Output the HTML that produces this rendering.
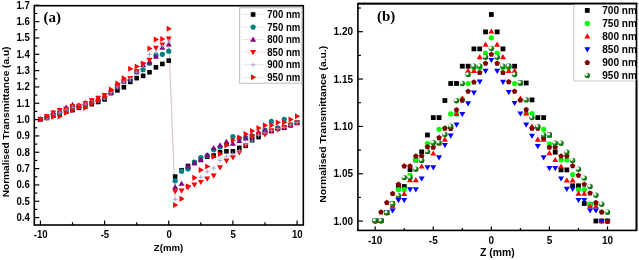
<!DOCTYPE html>
<html><head><meta charset="utf-8"><style>
html,body{margin:0;padding:0;background:#fff;width:639px;height:260px;overflow:hidden}
svg{display:block;filter:blur(0.35px)}
</style></head><body>
<svg width="639" height="260" viewBox="0 0 639 260">
<rect width="639" height="260" fill="#fff"/>
<defs><radialGradient id="sg" cx="0.36" cy="0.36" r="0.68" fx="0.3" fy="0.3"><stop offset="0" stop-color="#ffffff"/><stop offset="0.3" stop-color="#e4ece4"/><stop offset="0.45" stop-color="#4c9c4c"/><stop offset="0.62" stop-color="#128212"/><stop offset="1" stop-color="#006400"/></radialGradient><clipPath id="cb"><rect x="0" y="0" width="636.5" height="260"/></clipPath></defs>
<g>
<polyline points="40.45,119.61 46.86,118.79 53.28,114.71 59.69,112.26 66.11,109.81 72.53,107.36 78.94,106.22 85.36,104.10 91.77,102.46 98.19,100.83 104.60,97.89 111.02,92.67 117.43,86.95 123.84,82.05 130.26,78.78 136.68,72.25 143.09,64.90 149.50,54.45 155.92,52.66 162.34,46.12 168.75,41.23 175.16,199.46 181.58,198.81 188.00,186.56 194.41,177.74 200.82,177.25 207.24,171.70 213.66,168.11 220.07,160.44 226.49,156.52 232.90,153.90 239.31,150.64 245.73,144.11 252.14,140.84 258.56,135.12 264.98,132.67 271.39,130.55 277.81,128.59 284.22,127.45 290.63,124.84 297.05,122.55" fill="none" stroke="#eee6ee" stroke-width="0.7"/>
<path d="M168.75 41.23L175.16 199.46" stroke="#d2bccf" stroke-width="0.9"/>
<rect x="38.15" y="117.31" width="4.60" height="4.60" fill="#000"/>
<rect x="44.56" y="115.68" width="4.60" height="4.60" fill="#000"/>
<rect x="50.98" y="113.23" width="4.60" height="4.60" fill="#000"/>
<rect x="57.39" y="111.59" width="4.60" height="4.60" fill="#000"/>
<rect x="63.81" y="109.47" width="4.60" height="4.60" fill="#000"/>
<rect x="70.23" y="107.84" width="4.60" height="4.60" fill="#000"/>
<rect x="76.64" y="105.55" width="4.60" height="4.60" fill="#000"/>
<rect x="83.06" y="103.92" width="4.60" height="4.60" fill="#000"/>
<rect x="89.47" y="101.80" width="4.60" height="4.60" fill="#000"/>
<rect x="95.89" y="99.67" width="4.60" height="4.60" fill="#000"/>
<rect x="102.30" y="97.06" width="4.60" height="4.60" fill="#000"/>
<rect x="108.72" y="90.69" width="4.60" height="4.60" fill="#000"/>
<rect x="115.13" y="88.08" width="4.60" height="4.60" fill="#000"/>
<rect x="121.55" y="84.98" width="4.60" height="4.60" fill="#000"/>
<rect x="127.96" y="79.59" width="4.60" height="4.60" fill="#000"/>
<rect x="134.38" y="75.83" width="4.60" height="4.60" fill="#000"/>
<rect x="140.79" y="73.55" width="4.60" height="4.60" fill="#000"/>
<rect x="147.20" y="69.95" width="4.60" height="4.60" fill="#000"/>
<rect x="153.62" y="65.05" width="4.60" height="4.60" fill="#000"/>
<rect x="160.03" y="61.62" width="4.60" height="4.60" fill="#000"/>
<rect x="166.45" y="58.36" width="4.60" height="4.60" fill="#000"/>
<rect x="172.86" y="174.30" width="4.60" height="4.60" fill="#000"/>
<rect x="179.28" y="167.93" width="4.60" height="4.60" fill="#000"/>
<rect x="185.69" y="163.69" width="4.60" height="4.60" fill="#000"/>
<rect x="192.11" y="160.58" width="4.60" height="4.60" fill="#000"/>
<rect x="198.52" y="156.50" width="4.60" height="4.60" fill="#000"/>
<rect x="204.94" y="154.38" width="4.60" height="4.60" fill="#000"/>
<rect x="211.35" y="153.24" width="4.60" height="4.60" fill="#000"/>
<rect x="217.77" y="149.97" width="4.60" height="4.60" fill="#000"/>
<rect x="224.19" y="148.99" width="4.60" height="4.60" fill="#000"/>
<rect x="230.60" y="148.99" width="4.60" height="4.60" fill="#000"/>
<rect x="237.01" y="145.56" width="4.60" height="4.60" fill="#000"/>
<rect x="243.43" y="143.44" width="4.60" height="4.60" fill="#000"/>
<rect x="249.84" y="137.89" width="4.60" height="4.60" fill="#000"/>
<rect x="256.26" y="134.78" width="4.60" height="4.60" fill="#000"/>
<rect x="262.68" y="130.37" width="4.60" height="4.60" fill="#000"/>
<rect x="269.09" y="128.74" width="4.60" height="4.60" fill="#000"/>
<rect x="275.50" y="126.29" width="4.60" height="4.60" fill="#000"/>
<rect x="281.92" y="125.48" width="4.60" height="4.60" fill="#000"/>
<rect x="288.33" y="123.03" width="4.60" height="4.60" fill="#000"/>
<rect x="294.75" y="120.58" width="4.60" height="4.60" fill="#000"/>
<circle cx="40.45" cy="119.61" r="2.60" fill="#008080"/>
<circle cx="46.86" cy="117.16" r="2.60" fill="#008080"/>
<circle cx="53.28" cy="114.71" r="2.60" fill="#008080"/>
<circle cx="59.69" cy="113.08" r="2.60" fill="#008080"/>
<circle cx="66.11" cy="110.63" r="2.60" fill="#008080"/>
<circle cx="72.53" cy="108.18" r="2.60" fill="#008080"/>
<circle cx="78.94" cy="106.87" r="2.60" fill="#008080"/>
<circle cx="85.36" cy="105.24" r="2.60" fill="#008080"/>
<circle cx="91.77" cy="102.79" r="2.60" fill="#008080"/>
<circle cx="98.19" cy="100.01" r="2.60" fill="#008080"/>
<circle cx="104.60" cy="97.56" r="2.60" fill="#008080"/>
<circle cx="111.02" cy="92.99" r="2.60" fill="#008080"/>
<circle cx="117.43" cy="86.95" r="2.60" fill="#008080"/>
<circle cx="123.84" cy="81.72" r="2.60" fill="#008080"/>
<circle cx="130.26" cy="79.60" r="2.60" fill="#008080"/>
<circle cx="136.68" cy="72.25" r="2.60" fill="#008080"/>
<circle cx="143.09" cy="69.64" r="2.60" fill="#008080"/>
<circle cx="149.50" cy="63.27" r="2.60" fill="#008080"/>
<circle cx="155.92" cy="55.27" r="2.60" fill="#008080"/>
<circle cx="162.34" cy="54.29" r="2.60" fill="#008080"/>
<circle cx="168.75" cy="51.19" r="2.60" fill="#008080"/>
<circle cx="175.16" cy="180.85" r="2.60" fill="#008080"/>
<circle cx="181.58" cy="171.21" r="2.60" fill="#008080"/>
<circle cx="188.00" cy="168.93" r="2.60" fill="#008080"/>
<circle cx="194.41" cy="162.07" r="2.60" fill="#008080"/>
<circle cx="200.82" cy="157.66" r="2.60" fill="#008080"/>
<circle cx="207.24" cy="155.54" r="2.60" fill="#008080"/>
<circle cx="213.66" cy="149.82" r="2.60" fill="#008080"/>
<circle cx="220.07" cy="147.04" r="2.60" fill="#008080"/>
<circle cx="226.49" cy="144.11" r="2.60" fill="#008080"/>
<circle cx="232.90" cy="136.59" r="2.60" fill="#008080"/>
<circle cx="239.31" cy="138.39" r="2.60" fill="#008080"/>
<circle cx="245.73" cy="137.57" r="2.60" fill="#008080"/>
<circle cx="252.14" cy="135.94" r="2.60" fill="#008080"/>
<circle cx="258.56" cy="133.49" r="2.60" fill="#008080"/>
<circle cx="264.98" cy="130.22" r="2.60" fill="#008080"/>
<circle cx="271.39" cy="121.41" r="2.60" fill="#008080"/>
<circle cx="277.81" cy="127.78" r="2.60" fill="#008080"/>
<circle cx="284.22" cy="119.45" r="2.60" fill="#008080"/>
<circle cx="290.63" cy="124.84" r="2.60" fill="#008080"/>
<circle cx="297.05" cy="122.55" r="2.60" fill="#008080"/>
<path d="M40.45 116.00L43.45 121.20L37.45 121.20Z" fill="#800080"/>
<path d="M46.86 113.55L49.86 118.75L43.86 118.75Z" fill="#800080"/>
<path d="M53.28 109.63L56.28 114.83L50.28 114.83Z" fill="#800080"/>
<path d="M59.69 107.18L62.69 112.38L56.69 112.38Z" fill="#800080"/>
<path d="M66.11 104.57L69.11 109.77L63.11 109.77Z" fill="#800080"/>
<path d="M72.53 101.80L75.53 106.99L69.53 106.99Z" fill="#800080"/>
<path d="M78.94 102.29L81.94 107.48L75.94 107.48Z" fill="#800080"/>
<path d="M85.36 99.84L88.36 105.03L82.36 105.03Z" fill="#800080"/>
<path d="M91.77 97.39L94.77 102.58L88.77 102.58Z" fill="#800080"/>
<path d="M98.19 96.08L101.19 101.28L95.19 101.28Z" fill="#800080"/>
<path d="M104.60 93.63L107.60 98.83L101.60 98.83Z" fill="#800080"/>
<path d="M111.02 89.55L114.02 94.74L108.02 94.74Z" fill="#800080"/>
<path d="M117.43 83.34L120.43 88.54L114.43 88.54Z" fill="#800080"/>
<path d="M123.84 78.12L126.84 83.31L120.84 83.31Z" fill="#800080"/>
<path d="M130.26 75.67L133.26 80.86L127.26 80.86Z" fill="#800080"/>
<path d="M136.68 68.16L139.68 73.35L133.68 73.35Z" fill="#800080"/>
<path d="M143.09 61.79L146.09 66.98L140.09 66.98Z" fill="#800080"/>
<path d="M149.50 59.34L152.50 64.53L146.50 64.53Z" fill="#800080"/>
<path d="M155.92 53.46L158.92 58.65L152.92 58.65Z" fill="#800080"/>
<path d="M162.34 44.64L165.34 49.84L159.34 49.84Z" fill="#800080"/>
<path d="M168.75 41.37L171.75 46.57L165.75 46.57Z" fill="#800080"/>
<path d="M175.16 183.94L178.16 189.13L172.16 189.13Z" fill="#800080"/>
<path d="M181.58 180.67L184.58 185.87L178.58 185.87Z" fill="#800080"/>
<path d="M188.00 163.36L191.00 168.56L185.00 168.56Z" fill="#800080"/>
<path d="M194.41 159.93L197.41 165.13L191.41 165.13Z" fill="#800080"/>
<path d="M200.82 157.15L203.82 162.35L197.82 162.35Z" fill="#800080"/>
<path d="M207.24 152.09L210.24 157.29L204.24 157.29Z" fill="#800080"/>
<path d="M213.66 144.91L216.66 150.10L210.66 150.10Z" fill="#800080"/>
<path d="M220.07 142.13L223.07 147.33L217.07 147.33Z" fill="#800080"/>
<path d="M226.49 138.70L229.49 143.90L223.49 143.90Z" fill="#800080"/>
<path d="M232.90 140.50L235.90 145.69L229.90 145.69Z" fill="#800080"/>
<path d="M239.31 137.88L242.31 143.08L236.31 143.08Z" fill="#800080"/>
<path d="M245.73 135.27L248.73 140.47L242.73 140.47Z" fill="#800080"/>
<path d="M252.14 133.48L255.14 138.67L249.14 138.67Z" fill="#800080"/>
<path d="M258.56 129.23L261.56 134.43L255.56 134.43Z" fill="#800080"/>
<path d="M264.98 127.43L267.98 132.63L261.98 132.63Z" fill="#800080"/>
<path d="M271.39 127.43L274.39 132.63L268.39 132.63Z" fill="#800080"/>
<path d="M277.81 125.15L280.81 130.34L274.81 130.34Z" fill="#800080"/>
<path d="M284.22 124.33L287.22 129.53L281.22 129.53Z" fill="#800080"/>
<path d="M290.63 121.72L293.63 126.91L287.63 126.91Z" fill="#800080"/>
<path d="M297.05 119.43L300.05 124.63L294.05 124.63Z" fill="#800080"/>
<path d="M40.45 122.24L43.45 117.04L37.45 117.04Z" fill="#ff0000"/>
<path d="M46.86 119.46L49.86 114.27L43.86 114.27Z" fill="#ff0000"/>
<path d="M53.28 115.71L56.28 110.51L50.28 110.51Z" fill="#ff0000"/>
<path d="M59.69 113.26L62.69 108.06L56.69 108.06Z" fill="#ff0000"/>
<path d="M66.11 111.95L69.11 106.75L63.11 106.75Z" fill="#ff0000"/>
<path d="M72.53 109.50L75.53 104.30L69.53 104.30Z" fill="#ff0000"/>
<path d="M78.94 108.85L81.94 103.65L75.94 103.65Z" fill="#ff0000"/>
<path d="M85.36 106.40L88.36 101.20L82.36 101.20Z" fill="#ff0000"/>
<path d="M91.77 103.46L94.77 98.26L88.77 98.26Z" fill="#ff0000"/>
<path d="M98.19 100.85L101.19 95.65L95.19 95.65Z" fill="#ff0000"/>
<path d="M104.60 98.23L107.60 93.04L101.60 93.04Z" fill="#ff0000"/>
<path d="M111.02 94.97L114.02 89.77L108.02 89.77Z" fill="#ff0000"/>
<path d="M117.43 89.25L120.43 84.06L114.43 84.06Z" fill="#ff0000"/>
<path d="M123.84 84.35L126.84 79.16L120.84 79.16Z" fill="#ff0000"/>
<path d="M130.26 81.25L133.26 76.05L127.26 76.05Z" fill="#ff0000"/>
<path d="M136.68 74.39L139.68 69.19L133.68 69.19Z" fill="#ff0000"/>
<path d="M143.09 67.53L146.09 62.34L140.09 62.34Z" fill="#ff0000"/>
<path d="M149.50 62.96L152.50 57.76L146.50 57.76Z" fill="#ff0000"/>
<path d="M155.92 51.04L158.92 45.84L152.92 45.84Z" fill="#ff0000"/>
<path d="M162.34 47.61L165.34 42.41L159.34 42.41Z" fill="#ff0000"/>
<path d="M168.75 41.73L171.75 36.53L165.75 36.53Z" fill="#ff0000"/>
<path d="M175.16 194.42L178.16 189.22L172.16 189.22Z" fill="#ff0000"/>
<path d="M181.58 193.76L184.58 188.57L178.58 188.57Z" fill="#ff0000"/>
<path d="M188.00 190.50L191.00 185.30L185.00 185.30Z" fill="#ff0000"/>
<path d="M194.41 187.72L197.41 182.53L191.41 182.53Z" fill="#ff0000"/>
<path d="M200.82 185.11L203.82 179.91L197.82 179.91Z" fill="#ff0000"/>
<path d="M207.24 181.68L210.24 176.48L204.24 176.48Z" fill="#ff0000"/>
<path d="M213.66 178.74L216.66 173.54L210.66 173.54Z" fill="#ff0000"/>
<path d="M220.07 170.41L223.07 165.22L217.07 165.22Z" fill="#ff0000"/>
<path d="M226.49 163.72L229.49 158.52L223.49 158.52Z" fill="#ff0000"/>
<path d="M232.90 160.45L235.90 155.25L229.90 155.25Z" fill="#ff0000"/>
<path d="M239.31 155.39L242.31 150.19L236.31 150.19Z" fill="#ff0000"/>
<path d="M245.73 148.86L248.73 143.66L242.73 143.66Z" fill="#ff0000"/>
<path d="M252.14 139.71L255.14 134.51L249.14 134.51Z" fill="#ff0000"/>
<path d="M258.56 137.10L261.56 131.90L255.56 131.90Z" fill="#ff0000"/>
<path d="M264.98 137.59L267.98 132.39L261.98 132.39Z" fill="#ff0000"/>
<path d="M271.39 133.67L274.39 128.47L268.39 128.47Z" fill="#ff0000"/>
<path d="M277.81 132.85L280.81 127.66L274.81 127.66Z" fill="#ff0000"/>
<path d="M284.22 130.57L287.22 125.37L281.22 125.37Z" fill="#ff0000"/>
<path d="M290.63 127.95L293.63 122.76L287.63 122.76Z" fill="#ff0000"/>
<path d="M297.05 125.67L300.05 120.47L294.05 120.47Z" fill="#ff0000"/>
<path d="M38.15 119.61H42.75M40.45 117.31V121.91" stroke="#9c9cd0" stroke-width="0.8" fill="none"/>
<path d="M44.56 118.79H49.16M46.86 116.49V121.09" stroke="#9c9cd0" stroke-width="0.8" fill="none"/>
<path d="M50.98 114.71H55.58M53.28 112.41V117.01" stroke="#9c9cd0" stroke-width="0.8" fill="none"/>
<path d="M57.39 112.26H61.99M59.69 109.96V114.56" stroke="#9c9cd0" stroke-width="0.8" fill="none"/>
<path d="M63.81 109.81H68.41M66.11 107.51V112.11" stroke="#9c9cd0" stroke-width="0.8" fill="none"/>
<path d="M70.23 107.36H74.83M72.53 105.06V109.66" stroke="#9c9cd0" stroke-width="0.8" fill="none"/>
<path d="M76.64 106.22H81.24M78.94 103.92V108.52" stroke="#9c9cd0" stroke-width="0.8" fill="none"/>
<path d="M83.06 104.10H87.66M85.36 101.80V106.40" stroke="#9c9cd0" stroke-width="0.8" fill="none"/>
<path d="M89.47 102.46H94.07M91.77 100.16V104.76" stroke="#9c9cd0" stroke-width="0.8" fill="none"/>
<path d="M95.89 100.83H100.48M98.19 98.53V103.13" stroke="#9c9cd0" stroke-width="0.8" fill="none"/>
<path d="M102.30 97.89H106.90M104.60 95.59V100.19" stroke="#9c9cd0" stroke-width="0.8" fill="none"/>
<path d="M108.72 92.67H113.31M111.02 90.37V94.97" stroke="#9c9cd0" stroke-width="0.8" fill="none"/>
<path d="M115.13 86.95H119.73M117.43 84.65V89.25" stroke="#9c9cd0" stroke-width="0.8" fill="none"/>
<path d="M121.55 82.05H126.14M123.84 79.75V84.35" stroke="#9c9cd0" stroke-width="0.8" fill="none"/>
<path d="M127.96 78.78H132.56M130.26 76.48V81.08" stroke="#9c9cd0" stroke-width="0.8" fill="none"/>
<path d="M134.38 72.25H138.98M136.68 69.95V74.55" stroke="#9c9cd0" stroke-width="0.8" fill="none"/>
<path d="M140.79 64.90H145.39M143.09 62.60V67.20" stroke="#9c9cd0" stroke-width="0.8" fill="none"/>
<path d="M147.20 54.45H151.81M149.50 52.15V56.75" stroke="#9c9cd0" stroke-width="0.8" fill="none"/>
<path d="M153.62 52.66H158.22M155.92 50.36V54.96" stroke="#9c9cd0" stroke-width="0.8" fill="none"/>
<path d="M160.03 46.12H164.64M162.34 43.83V48.42" stroke="#9c9cd0" stroke-width="0.8" fill="none"/>
<path d="M166.45 41.23H171.05M168.75 38.93V43.53" stroke="#9c9cd0" stroke-width="0.8" fill="none"/>
<path d="M172.86 199.46H177.47M175.16 197.16V201.76" stroke="#9c9cd0" stroke-width="0.8" fill="none"/>
<path d="M179.28 198.81H183.88M181.58 196.51V201.11" stroke="#9c9cd0" stroke-width="0.8" fill="none"/>
<path d="M185.69 186.56H190.30M188.00 184.26V188.86" stroke="#9c9cd0" stroke-width="0.8" fill="none"/>
<path d="M192.11 177.74H196.71M194.41 175.44V180.04" stroke="#9c9cd0" stroke-width="0.8" fill="none"/>
<path d="M198.52 177.25H203.12M200.82 174.95V179.55" stroke="#9c9cd0" stroke-width="0.8" fill="none"/>
<path d="M204.94 171.70H209.54M207.24 169.40V174.00" stroke="#9c9cd0" stroke-width="0.8" fill="none"/>
<path d="M211.35 168.11H215.96M213.66 165.81V170.41" stroke="#9c9cd0" stroke-width="0.8" fill="none"/>
<path d="M217.77 160.44H222.37M220.07 158.13V162.74" stroke="#9c9cd0" stroke-width="0.8" fill="none"/>
<path d="M224.19 156.52H228.79M226.49 154.22V158.82" stroke="#9c9cd0" stroke-width="0.8" fill="none"/>
<path d="M230.60 153.90H235.20M232.90 151.60V156.20" stroke="#9c9cd0" stroke-width="0.8" fill="none"/>
<path d="M237.01 150.64H241.62M239.31 148.34V152.94" stroke="#9c9cd0" stroke-width="0.8" fill="none"/>
<path d="M243.43 144.11H248.03M245.73 141.81V146.41" stroke="#9c9cd0" stroke-width="0.8" fill="none"/>
<path d="M249.84 140.84H254.44M252.14 138.54V143.14" stroke="#9c9cd0" stroke-width="0.8" fill="none"/>
<path d="M256.26 135.12H260.86M258.56 132.82V137.42" stroke="#9c9cd0" stroke-width="0.8" fill="none"/>
<path d="M262.68 132.67H267.28M264.98 130.37V134.97" stroke="#9c9cd0" stroke-width="0.8" fill="none"/>
<path d="M269.09 130.55H273.69M271.39 128.25V132.85" stroke="#9c9cd0" stroke-width="0.8" fill="none"/>
<path d="M275.50 128.59H280.11M277.81 126.29V130.89" stroke="#9c9cd0" stroke-width="0.8" fill="none"/>
<path d="M281.92 127.45H286.52M284.22 125.15V129.75" stroke="#9c9cd0" stroke-width="0.8" fill="none"/>
<path d="M288.33 124.84H292.94M290.63 122.54V127.14" stroke="#9c9cd0" stroke-width="0.8" fill="none"/>
<path d="M294.75 122.55H299.35M297.05 120.25V124.85" stroke="#9c9cd0" stroke-width="0.8" fill="none"/>
<path d="M43.57 119.45L38.37 116.45L38.37 122.45Z" fill="#ff0000"/>
<path d="M49.98 116.51L44.79 113.51L44.79 119.51Z" fill="#ff0000"/>
<path d="M56.40 116.83L51.20 113.83L51.20 119.83Z" fill="#ff0000"/>
<path d="M62.81 116.51L57.62 113.51L57.62 119.51Z" fill="#ff0000"/>
<path d="M69.23 112.75L64.03 109.75L64.03 115.75Z" fill="#ff0000"/>
<path d="M75.64 110.30L70.45 107.30L70.45 113.30Z" fill="#ff0000"/>
<path d="M82.06 107.36L76.86 104.36L76.86 110.36Z" fill="#ff0000"/>
<path d="M88.47 107.85L83.28 104.85L83.28 110.85Z" fill="#ff0000"/>
<path d="M94.89 103.77L89.69 100.77L89.69 106.77Z" fill="#ff0000"/>
<path d="M101.30 100.34L96.11 97.34L96.11 103.34Z" fill="#ff0000"/>
<path d="M107.72 96.75L102.52 93.75L102.52 99.75Z" fill="#ff0000"/>
<path d="M114.13 89.56L108.94 86.56L108.94 92.56Z" fill="#ff0000"/>
<path d="M120.55 83.52L115.35 80.52L115.35 86.52Z" fill="#ff0000"/>
<path d="M126.96 78.13L121.77 75.13L121.77 81.13Z" fill="#ff0000"/>
<path d="M133.38 68.82L128.18 65.82L128.18 71.82Z" fill="#ff0000"/>
<path d="M139.79 66.54L134.60 63.54L134.60 69.54Z" fill="#ff0000"/>
<path d="M146.21 63.43L141.01 60.43L141.01 66.43Z" fill="#ff0000"/>
<path d="M152.62 48.57L147.43 45.57L147.43 51.57Z" fill="#ff0000"/>
<path d="M159.04 39.59L153.84 36.59L153.84 42.59Z" fill="#ff0000"/>
<path d="M165.45 39.10L160.26 36.10L160.26 42.10Z" fill="#ff0000"/>
<path d="M171.87 28.82L166.67 25.82L166.67 31.82Z" fill="#ff0000"/>
<path d="M178.28 205.02L173.09 202.02L173.09 208.02Z" fill="#ff0000"/>
<path d="M184.70 198.81L179.50 195.81L179.50 201.81Z" fill="#ff0000"/>
<path d="M191.11 186.24L185.92 183.24L185.92 189.24Z" fill="#ff0000"/>
<path d="M197.53 177.74L192.33 174.74L192.33 180.74Z" fill="#ff0000"/>
<path d="M203.94 169.91L198.75 166.91L198.75 172.91Z" fill="#ff0000"/>
<path d="M210.36 166.48L205.16 163.48L205.16 169.48Z" fill="#ff0000"/>
<path d="M216.77 156.84L211.58 153.84L211.58 159.84Z" fill="#ff0000"/>
<path d="M223.19 153.90L217.99 150.90L217.99 156.90Z" fill="#ff0000"/>
<path d="M229.60 145.25L224.41 142.25L224.41 148.25Z" fill="#ff0000"/>
<path d="M236.02 140.19L230.82 137.19L230.82 143.19Z" fill="#ff0000"/>
<path d="M242.43 137.41L237.24 134.41L237.24 140.41Z" fill="#ff0000"/>
<path d="M248.85 133.98L243.65 130.98L243.65 136.98Z" fill="#ff0000"/>
<path d="M255.26 130.88L250.07 127.88L250.07 133.88Z" fill="#ff0000"/>
<path d="M261.68 127.94L256.48 124.94L256.48 130.94Z" fill="#ff0000"/>
<path d="M268.09 125.16L262.90 122.16L262.90 128.16Z" fill="#ff0000"/>
<path d="M274.51 125.16L269.31 122.16L269.31 128.16Z" fill="#ff0000"/>
<path d="M280.92 122.55L275.73 119.55L275.73 125.55Z" fill="#ff0000"/>
<path d="M287.34 122.55L282.14 119.55L282.14 125.55Z" fill="#ff0000"/>
<path d="M293.75 119.45L288.56 116.45L288.56 122.45Z" fill="#ff0000"/>
<path d="M300.17 116.34L294.97 113.34L294.97 119.34Z" fill="#ff0000"/>
</g>
<rect x="34.3" y="5.7" width="269.0" height="219.3" fill="none" stroke="#000" stroke-width="1.6"/>
<path d="M34.3 217.59H39.3" stroke="#000" stroke-width="1.2"/>
<text transform="translate(29.80 220.99) scale(1 1.11)" font-family='"Liberation Sans", sans-serif' font-size="9.6" font-weight="bold" text-anchor="end" >0.4</text>
<path d="M34.3 209.43H37.3" stroke="#000" stroke-width="1.2"/>
<path d="M34.3 201.26H39.3" stroke="#000" stroke-width="1.2"/>
<text transform="translate(29.80 204.66) scale(1 1.11)" font-family='"Liberation Sans", sans-serif' font-size="9.6" font-weight="bold" text-anchor="end" >0.5</text>
<path d="M34.3 193.09H37.3" stroke="#000" stroke-width="1.2"/>
<path d="M34.3 184.93H39.3" stroke="#000" stroke-width="1.2"/>
<text transform="translate(29.80 188.33) scale(1 1.11)" font-family='"Liberation Sans", sans-serif' font-size="9.6" font-weight="bold" text-anchor="end" >0.6</text>
<path d="M34.3 176.76H37.3" stroke="#000" stroke-width="1.2"/>
<path d="M34.3 168.60H39.3" stroke="#000" stroke-width="1.2"/>
<text transform="translate(29.80 172.00) scale(1 1.11)" font-family='"Liberation Sans", sans-serif' font-size="9.6" font-weight="bold" text-anchor="end" >0.7</text>
<path d="M34.3 160.44H37.3" stroke="#000" stroke-width="1.2"/>
<path d="M34.3 152.27H39.3" stroke="#000" stroke-width="1.2"/>
<text transform="translate(29.80 155.67) scale(1 1.11)" font-family='"Liberation Sans", sans-serif' font-size="9.6" font-weight="bold" text-anchor="end" >0.8</text>
<path d="M34.3 144.10H37.3" stroke="#000" stroke-width="1.2"/>
<path d="M34.3 135.94H39.3" stroke="#000" stroke-width="1.2"/>
<text transform="translate(29.80 139.34) scale(1 1.11)" font-family='"Liberation Sans", sans-serif' font-size="9.6" font-weight="bold" text-anchor="end" >0.9</text>
<path d="M34.3 127.77H37.3" stroke="#000" stroke-width="1.2"/>
<path d="M34.3 119.61H39.3" stroke="#000" stroke-width="1.2"/>
<text transform="translate(29.80 123.01) scale(1 1.11)" font-family='"Liberation Sans", sans-serif' font-size="9.6" font-weight="bold" text-anchor="end" >1.0</text>
<path d="M34.3 111.44H37.3" stroke="#000" stroke-width="1.2"/>
<path d="M34.3 103.28H39.3" stroke="#000" stroke-width="1.2"/>
<text transform="translate(29.80 106.68) scale(1 1.11)" font-family='"Liberation Sans", sans-serif' font-size="9.6" font-weight="bold" text-anchor="end" >1.1</text>
<path d="M34.3 95.11H37.3" stroke="#000" stroke-width="1.2"/>
<path d="M34.3 86.95H39.3" stroke="#000" stroke-width="1.2"/>
<text transform="translate(29.80 90.35) scale(1 1.11)" font-family='"Liberation Sans", sans-serif' font-size="9.6" font-weight="bold" text-anchor="end" >1.2</text>
<path d="M34.3 78.78H37.3" stroke="#000" stroke-width="1.2"/>
<path d="M34.3 70.62H39.3" stroke="#000" stroke-width="1.2"/>
<text transform="translate(29.80 74.02) scale(1 1.11)" font-family='"Liberation Sans", sans-serif' font-size="9.6" font-weight="bold" text-anchor="end" >1.3</text>
<path d="M34.3 62.45H37.3" stroke="#000" stroke-width="1.2"/>
<path d="M34.3 54.29H39.3" stroke="#000" stroke-width="1.2"/>
<text transform="translate(29.80 57.69) scale(1 1.11)" font-family='"Liberation Sans", sans-serif' font-size="9.6" font-weight="bold" text-anchor="end" >1.4</text>
<path d="M34.3 46.12H37.3" stroke="#000" stroke-width="1.2"/>
<path d="M34.3 37.96H39.3" stroke="#000" stroke-width="1.2"/>
<text transform="translate(29.80 41.36) scale(1 1.11)" font-family='"Liberation Sans", sans-serif' font-size="9.6" font-weight="bold" text-anchor="end" >1.5</text>
<path d="M34.3 29.79H37.3" stroke="#000" stroke-width="1.2"/>
<path d="M34.3 21.63H39.3" stroke="#000" stroke-width="1.2"/>
<text transform="translate(29.80 25.03) scale(1 1.11)" font-family='"Liberation Sans", sans-serif' font-size="9.6" font-weight="bold" text-anchor="end" >1.6</text>
<path d="M34.3 13.46H37.3" stroke="#000" stroke-width="1.2"/>
<path d="M34.3 5.30H39.3" stroke="#000" stroke-width="1.2"/>
<text transform="translate(29.80 8.70) scale(1 1.11)" font-family='"Liberation Sans", sans-serif' font-size="9.6" font-weight="bold" text-anchor="end" >1.7</text>
<path d="M40.45 225.0V220.5" stroke="#000" stroke-width="1.2"/>
<text transform="translate(40.75 237.90) scale(1 1.07)" font-family='"Liberation Sans", sans-serif' font-size="9.6" font-weight="bold" text-anchor="middle" >-10</text>
<path d="M104.60 225.0V220.5" stroke="#000" stroke-width="1.2"/>
<text transform="translate(104.90 237.90) scale(1 1.07)" font-family='"Liberation Sans", sans-serif' font-size="9.6" font-weight="bold" text-anchor="middle" >-5</text>
<path d="M168.75 225.0V220.5" stroke="#000" stroke-width="1.2"/>
<text transform="translate(169.05 237.90) scale(1 1.07)" font-family='"Liberation Sans", sans-serif' font-size="9.6" font-weight="bold" text-anchor="middle" >0</text>
<path d="M232.90 225.0V220.5" stroke="#000" stroke-width="1.2"/>
<text transform="translate(233.20 237.90) scale(1 1.07)" font-family='"Liberation Sans", sans-serif' font-size="9.6" font-weight="bold" text-anchor="middle" >5</text>
<path d="M297.05 225.0V220.5" stroke="#000" stroke-width="1.2"/>
<text transform="translate(297.35 237.90) scale(1 1.07)" font-family='"Liberation Sans", sans-serif' font-size="9.6" font-weight="bold" text-anchor="middle" >10</text>
<path d="M72.53 225.0V222.2" stroke="#000" stroke-width="1.2"/>
<path d="M136.68 225.0V222.2" stroke="#000" stroke-width="1.2"/>
<path d="M200.82 225.0V222.2" stroke="#000" stroke-width="1.2"/>
<path d="M264.98 225.0V222.2" stroke="#000" stroke-width="1.2"/>
<text transform="translate(168.50 250.50) scale(1 1.0)" font-family='"Liberation Sans", sans-serif' font-size="9.6" font-weight="bold" text-anchor="middle" >Z(mm)</text>
<text transform="translate(8.80 121.95) scale(1 1.11) rotate(-90)" font-family='"Liberation Sans", sans-serif' font-size="9.2" font-weight="bold" text-anchor="middle" textLength="135.86" lengthAdjust="spacingAndGlyphs">Normalised Transmittance (a.u)</text>
<text transform="translate(43.60 21.60) scale(1 1.03)" font-family='"Liberation Serif", serif' font-size="15" font-weight="bold" text-anchor="start" >(a)</text>
<rect x="239.7" y="7.8" width="62.2" height="75.4" fill="#fff" stroke="#b4b4b4" stroke-width="0.9"/>
<path d="M242.2 14.50H264.2" stroke="#e2e2e2" stroke-width="0.9"/>
<rect x="250.80" y="12.20" width="4.60" height="4.60" fill="#000"/>
<text transform="translate(267.30 18.00) scale(1 1.11)" font-family='"Liberation Sans", sans-serif' font-size="9.6" font-weight="bold" text-anchor="start" textLength="33" lengthAdjust="spacingAndGlyphs">700 nm</text>
<path d="M242.2 27.06H264.2" stroke="#d6eaea" stroke-width="0.9"/>
<circle cx="253.10" cy="27.06" r="2.60" fill="#008080"/>
<text transform="translate(267.30 30.56) scale(1 1.11)" font-family='"Liberation Sans", sans-serif' font-size="9.6" font-weight="bold" text-anchor="start" textLength="33" lengthAdjust="spacingAndGlyphs">750 nm</text>
<path d="M242.2 39.62H264.2" stroke="#ead6ea" stroke-width="0.9"/>
<path d="M253.10 36.50L256.10 41.70L250.10 41.70Z" fill="#800080"/>
<text transform="translate(267.30 43.12) scale(1 1.11)" font-family='"Liberation Sans", sans-serif' font-size="9.6" font-weight="bold" text-anchor="start" textLength="33" lengthAdjust="spacingAndGlyphs">800 nm</text>
<path d="M242.2 52.18H264.2" stroke="#fbdde4" stroke-width="0.9"/>
<path d="M253.10 55.30L256.10 50.10L250.10 50.10Z" fill="#ff0000"/>
<text transform="translate(267.30 55.68) scale(1 1.11)" font-family='"Liberation Sans", sans-serif' font-size="9.6" font-weight="bold" text-anchor="start" textLength="33" lengthAdjust="spacingAndGlyphs">850 nm</text>
<path d="M242.2 64.74H264.2" stroke="#e2e2ee" stroke-width="0.9"/>
<path d="M250.80 64.74H255.40M253.10 62.44V67.04" stroke="#9c9cd0" stroke-width="0.8" fill="none"/>
<text transform="translate(267.30 68.24) scale(1 1.11)" font-family='"Liberation Sans", sans-serif' font-size="9.6" font-weight="bold" text-anchor="start" textLength="33" lengthAdjust="spacingAndGlyphs">900 nm</text>
<path d="M242.2 77.30H264.2" stroke="#fbdde4" stroke-width="0.9"/>
<path d="M256.22 77.30L251.02 74.30L251.02 80.30Z" fill="#ff0000"/>
<text transform="translate(267.30 80.80) scale(1 1.11)" font-family='"Liberation Sans", sans-serif' font-size="9.6" font-weight="bold" text-anchor="start" textLength="33" lengthAdjust="spacingAndGlyphs">950 nm</text>
<g>
<rect x="372.80" y="218.30" width="4.80" height="4.80" fill="#000"/>
<rect x="378.61" y="218.30" width="4.80" height="4.80" fill="#000"/>
<rect x="384.42" y="210.30" width="4.80" height="4.80" fill="#000"/>
<rect x="390.22" y="201.50" width="4.80" height="4.80" fill="#000"/>
<rect x="396.03" y="184.10" width="4.80" height="4.80" fill="#000"/>
<rect x="401.84" y="184.10" width="4.80" height="4.80" fill="#000"/>
<rect x="407.65" y="167.20" width="4.80" height="4.80" fill="#000"/>
<rect x="413.45" y="157.60" width="4.80" height="4.80" fill="#000"/>
<rect x="419.26" y="149.50" width="4.80" height="4.80" fill="#000"/>
<rect x="425.07" y="132.60" width="4.80" height="4.80" fill="#000"/>
<rect x="430.88" y="115.20" width="4.80" height="4.80" fill="#000"/>
<rect x="436.68" y="115.20" width="4.80" height="4.80" fill="#000"/>
<rect x="442.49" y="98.10" width="4.80" height="4.80" fill="#000"/>
<rect x="448.30" y="81.10" width="4.80" height="4.80" fill="#000"/>
<rect x="454.11" y="81.10" width="4.80" height="4.80" fill="#000"/>
<rect x="459.91" y="63.80" width="4.80" height="4.80" fill="#000"/>
<rect x="465.72" y="63.80" width="4.80" height="4.80" fill="#000"/>
<rect x="471.53" y="46.50" width="4.80" height="4.80" fill="#000"/>
<rect x="477.34" y="46.50" width="4.80" height="4.80" fill="#000"/>
<rect x="483.14" y="29.50" width="4.80" height="4.80" fill="#000"/>
<rect x="488.95" y="12.10" width="4.80" height="4.80" fill="#000"/>
<rect x="494.76" y="29.50" width="4.80" height="4.80" fill="#000"/>
<rect x="500.57" y="46.50" width="4.80" height="4.80" fill="#000"/>
<rect x="506.37" y="63.80" width="4.80" height="4.80" fill="#000"/>
<rect x="512.18" y="63.80" width="4.80" height="4.80" fill="#000"/>
<rect x="517.99" y="80.60" width="4.80" height="4.80" fill="#000"/>
<rect x="523.80" y="80.60" width="4.80" height="4.80" fill="#000"/>
<rect x="529.60" y="97.50" width="4.80" height="4.80" fill="#000"/>
<rect x="535.41" y="115.20" width="4.80" height="4.80" fill="#000"/>
<rect x="541.22" y="115.20" width="4.80" height="4.80" fill="#000"/>
<rect x="547.03" y="132.60" width="4.80" height="4.80" fill="#000"/>
<rect x="552.83" y="149.80" width="4.80" height="4.80" fill="#000"/>
<rect x="558.64" y="167.50" width="4.80" height="4.80" fill="#000"/>
<rect x="564.45" y="167.50" width="4.80" height="4.80" fill="#000"/>
<rect x="570.25" y="183.40" width="4.80" height="4.80" fill="#000"/>
<rect x="576.06" y="183.40" width="4.80" height="4.80" fill="#000"/>
<rect x="581.87" y="201.10" width="4.80" height="4.80" fill="#000"/>
<rect x="587.68" y="201.90" width="4.80" height="4.80" fill="#000"/>
<rect x="593.49" y="218.60" width="4.80" height="4.80" fill="#000"/>
<rect x="599.29" y="218.60" width="4.80" height="4.80" fill="#000"/>
<rect x="605.10" y="218.60" width="4.80" height="4.80" fill="#000"/>
<circle cx="375.20" cy="220.70" r="2.60" fill="#00ff00"/>
<circle cx="381.01" cy="220.70" r="2.60" fill="#00ff00"/>
<circle cx="386.82" cy="212.70" r="2.60" fill="#00ff00"/>
<circle cx="392.62" cy="204.00" r="2.60" fill="#00ff00"/>
<circle cx="398.43" cy="189.60" r="2.60" fill="#00ff00"/>
<circle cx="404.24" cy="189.60" r="2.60" fill="#00ff00"/>
<circle cx="410.05" cy="175.00" r="2.60" fill="#00ff00"/>
<circle cx="415.85" cy="159.60" r="2.60" fill="#00ff00"/>
<circle cx="421.66" cy="160.40" r="2.60" fill="#00ff00"/>
<circle cx="427.47" cy="143.50" r="2.60" fill="#00ff00"/>
<circle cx="433.28" cy="142.70" r="2.60" fill="#00ff00"/>
<circle cx="439.08" cy="129.30" r="2.60" fill="#00ff00"/>
<circle cx="444.89" cy="128.00" r="2.60" fill="#00ff00"/>
<circle cx="450.70" cy="113.90" r="2.60" fill="#00ff00"/>
<circle cx="456.50" cy="114.00" r="2.60" fill="#00ff00"/>
<circle cx="462.31" cy="99.00" r="2.60" fill="#00ff00"/>
<circle cx="468.12" cy="83.50" r="2.60" fill="#00ff00"/>
<circle cx="473.93" cy="67.70" r="2.60" fill="#00ff00"/>
<circle cx="479.74" cy="67.70" r="2.60" fill="#00ff00"/>
<circle cx="485.54" cy="53.10" r="2.60" fill="#00ff00"/>
<circle cx="491.35" cy="37.80" r="2.60" fill="#00ff00"/>
<circle cx="497.16" cy="53.10" r="2.60" fill="#00ff00"/>
<circle cx="502.97" cy="67.70" r="2.60" fill="#00ff00"/>
<circle cx="508.77" cy="67.70" r="2.60" fill="#00ff00"/>
<circle cx="514.58" cy="83.50" r="2.60" fill="#00ff00"/>
<circle cx="520.39" cy="83.00" r="2.60" fill="#00ff00"/>
<circle cx="526.20" cy="113.50" r="2.60" fill="#00ff00"/>
<circle cx="532.00" cy="113.50" r="2.60" fill="#00ff00"/>
<circle cx="537.81" cy="126.50" r="2.60" fill="#00ff00"/>
<circle cx="543.62" cy="129.30" r="2.60" fill="#00ff00"/>
<circle cx="549.43" cy="143.90" r="2.60" fill="#00ff00"/>
<circle cx="555.23" cy="143.20" r="2.60" fill="#00ff00"/>
<circle cx="561.04" cy="160.00" r="2.60" fill="#00ff00"/>
<circle cx="566.85" cy="160.00" r="2.60" fill="#00ff00"/>
<circle cx="572.65" cy="174.50" r="2.60" fill="#00ff00"/>
<circle cx="578.46" cy="189.60" r="2.60" fill="#00ff00"/>
<circle cx="584.27" cy="189.60" r="2.60" fill="#00ff00"/>
<circle cx="590.08" cy="204.30" r="2.60" fill="#00ff00"/>
<circle cx="595.88" cy="204.30" r="2.60" fill="#00ff00"/>
<circle cx="601.69" cy="212.00" r="2.60" fill="#00ff00"/>
<circle cx="607.50" cy="221.00" r="2.60" fill="#00ff00"/>
<path d="M375.20 217.88L378.20 223.08L372.20 223.08Z" fill="#ff0000"/>
<path d="M381.01 217.58L384.01 222.78L378.01 222.78Z" fill="#ff0000"/>
<path d="M386.82 209.58L389.82 214.78L383.82 214.78Z" fill="#ff0000"/>
<path d="M392.62 203.28L395.62 208.48L389.62 208.48Z" fill="#ff0000"/>
<path d="M398.43 192.48L401.43 197.68L395.43 197.68Z" fill="#ff0000"/>
<path d="M404.24 190.78L407.24 195.98L401.24 195.98Z" fill="#ff0000"/>
<path d="M410.05 176.98L413.05 182.18L407.05 182.18Z" fill="#ff0000"/>
<path d="M415.85 176.98L418.85 182.18L412.85 182.18Z" fill="#ff0000"/>
<path d="M421.66 163.38L424.66 168.58L418.66 168.58Z" fill="#ff0000"/>
<path d="M427.47 148.48L430.47 153.68L424.47 153.68Z" fill="#ff0000"/>
<path d="M433.28 150.38L436.28 155.58L430.28 155.58Z" fill="#ff0000"/>
<path d="M439.08 140.38L442.08 145.58L436.08 145.58Z" fill="#ff0000"/>
<path d="M444.89 136.48L447.89 141.68L441.89 141.68Z" fill="#ff0000"/>
<path d="M450.70 123.18L453.70 128.38L447.70 128.38Z" fill="#ff0000"/>
<path d="M456.50 110.88L459.50 116.08L453.50 116.08Z" fill="#ff0000"/>
<path d="M462.31 95.38L465.31 100.58L459.31 100.58Z" fill="#ff0000"/>
<path d="M468.12 67.68L471.12 72.88L465.12 72.88Z" fill="#ff0000"/>
<path d="M473.93 67.68L476.93 72.88L470.93 72.88Z" fill="#ff0000"/>
<path d="M479.74 54.08L482.74 59.28L476.74 59.28Z" fill="#ff0000"/>
<path d="M485.54 41.48L488.54 46.68L482.54 46.68Z" fill="#ff0000"/>
<path d="M491.35 28.38L494.35 33.58L488.35 33.58Z" fill="#ff0000"/>
<path d="M497.16 41.48L500.16 46.68L494.16 46.68Z" fill="#ff0000"/>
<path d="M502.97 54.08L505.97 59.28L499.97 59.28Z" fill="#ff0000"/>
<path d="M508.77 67.68L511.77 72.88L505.77 72.88Z" fill="#ff0000"/>
<path d="M514.58 67.68L517.58 72.88L511.58 72.88Z" fill="#ff0000"/>
<path d="M520.39 95.38L523.39 100.58L517.39 100.58Z" fill="#ff0000"/>
<path d="M526.20 110.08L529.20 115.28L523.20 115.28Z" fill="#ff0000"/>
<path d="M532.00 123.38L535.00 128.58L529.00 128.58Z" fill="#ff0000"/>
<path d="M537.81 136.48L540.81 141.68L534.81 141.68Z" fill="#ff0000"/>
<path d="M543.62 136.48L546.62 141.68L540.62 141.68Z" fill="#ff0000"/>
<path d="M549.43 150.08L552.43 155.28L546.43 155.28Z" fill="#ff0000"/>
<path d="M555.23 156.88L558.23 162.08L552.23 162.08Z" fill="#ff0000"/>
<path d="M561.04 163.38L564.04 168.58L558.04 168.58Z" fill="#ff0000"/>
<path d="M566.85 177.28L569.85 182.48L563.85 182.48Z" fill="#ff0000"/>
<path d="M572.65 177.28L575.65 182.48L569.65 182.48Z" fill="#ff0000"/>
<path d="M578.46 190.58L581.46 195.78L575.46 195.78Z" fill="#ff0000"/>
<path d="M584.27 190.58L587.27 195.78L581.27 195.78Z" fill="#ff0000"/>
<path d="M590.08 203.28L593.08 208.48L587.08 208.48Z" fill="#ff0000"/>
<path d="M595.88 203.28L598.88 208.48L592.88 208.48Z" fill="#ff0000"/>
<path d="M601.69 217.88L604.69 223.08L598.69 223.08Z" fill="#ff0000"/>
<path d="M607.50 217.88L610.50 223.08L604.50 223.08Z" fill="#ff0000"/>
<path d="M375.20 224.12L378.20 218.92L372.20 218.92Z" fill="#0000ff"/>
<path d="M381.01 224.12L384.01 218.92L378.01 218.92Z" fill="#0000ff"/>
<path d="M386.82 215.12L389.82 209.92L383.82 209.92Z" fill="#0000ff"/>
<path d="M392.62 213.62L395.62 208.42L389.62 208.42Z" fill="#0000ff"/>
<path d="M398.43 203.32L401.43 198.12L395.43 198.12Z" fill="#0000ff"/>
<path d="M404.24 203.32L407.24 198.12L401.24 198.12Z" fill="#0000ff"/>
<path d="M410.05 192.42L413.05 187.22L407.05 187.22Z" fill="#0000ff"/>
<path d="M415.85 192.42L418.85 187.22L412.85 187.22Z" fill="#0000ff"/>
<path d="M421.66 181.62L424.66 176.42L418.66 176.42Z" fill="#0000ff"/>
<path d="M427.47 170.42L430.47 165.22L424.47 165.22Z" fill="#0000ff"/>
<path d="M433.28 170.42L436.28 165.22L430.28 165.22Z" fill="#0000ff"/>
<path d="M439.08 160.42L442.08 155.22L436.08 155.22Z" fill="#0000ff"/>
<path d="M444.89 148.12L447.89 142.92L441.89 142.92Z" fill="#0000ff"/>
<path d="M450.70 138.72L453.70 133.52L447.70 133.52Z" fill="#0000ff"/>
<path d="M456.50 127.82L459.50 122.62L453.50 122.62Z" fill="#0000ff"/>
<path d="M462.31 117.12L465.31 111.92L459.31 111.92Z" fill="#0000ff"/>
<path d="M468.12 106.42L471.12 101.22L465.12 101.22Z" fill="#0000ff"/>
<path d="M473.93 95.82L476.93 90.62L470.93 90.62Z" fill="#0000ff"/>
<path d="M479.74 84.82L482.74 79.62L476.74 79.62Z" fill="#0000ff"/>
<path d="M485.54 73.92L488.54 68.72L482.54 68.72Z" fill="#0000ff"/>
<path d="M491.35 63.12L494.35 57.92L488.35 57.92Z" fill="#0000ff"/>
<path d="M497.16 73.92L500.16 68.72L494.16 68.72Z" fill="#0000ff"/>
<path d="M502.97 85.02L505.97 79.82L499.97 79.82Z" fill="#0000ff"/>
<path d="M508.77 95.32L511.77 90.12L505.77 90.12Z" fill="#0000ff"/>
<path d="M514.58 106.12L517.58 100.92L511.58 100.92Z" fill="#0000ff"/>
<path d="M520.39 116.62L523.39 111.42L517.39 111.42Z" fill="#0000ff"/>
<path d="M526.20 127.82L529.20 122.62L523.20 122.62Z" fill="#0000ff"/>
<path d="M532.00 138.92L535.00 133.72L529.00 133.72Z" fill="#0000ff"/>
<path d="M537.81 149.22L540.81 144.02L534.81 144.02Z" fill="#0000ff"/>
<path d="M543.62 160.42L546.62 155.22L540.62 155.22Z" fill="#0000ff"/>
<path d="M549.43 171.22L552.43 166.02L546.43 166.02Z" fill="#0000ff"/>
<path d="M555.23 171.22L558.23 166.02L552.23 166.02Z" fill="#0000ff"/>
<path d="M561.04 181.62L564.04 176.42L558.04 176.42Z" fill="#0000ff"/>
<path d="M566.85 191.92L569.85 186.72L563.85 186.72Z" fill="#0000ff"/>
<path d="M572.65 191.92L575.65 186.72L569.65 186.72Z" fill="#0000ff"/>
<path d="M578.46 203.12L581.46 197.92L575.46 197.92Z" fill="#0000ff"/>
<path d="M584.27 203.12L587.27 197.92L581.27 197.92Z" fill="#0000ff"/>
<path d="M590.08 213.62L593.08 208.42L587.08 208.42Z" fill="#0000ff"/>
<path d="M595.88 213.62L598.88 208.42L592.88 208.42Z" fill="#0000ff"/>
<path d="M601.69 224.12L604.69 218.92L598.69 218.92Z" fill="#0000ff"/>
<path d="M607.50 224.12L610.50 218.92L604.50 218.92Z" fill="#0000ff"/>
<polygon points="375.20,218.10 377.96,220.10 376.90,223.35 373.50,223.35 372.44,220.10" fill="#800000"/>
<polygon points="381.01,209.30 383.77,211.30 382.71,214.55 379.30,214.55 378.25,211.30" fill="#800000"/>
<polygon points="386.82,199.70 389.57,201.70 388.52,204.95 385.11,204.95 384.06,201.70" fill="#800000"/>
<polygon points="392.62,190.70 395.38,192.70 394.33,195.95 390.92,195.95 389.86,192.70" fill="#800000"/>
<polygon points="398.43,181.60 401.19,183.60 400.13,186.85 396.73,186.85 395.67,183.60" fill="#800000"/>
<polygon points="404.24,163.20 407.00,165.20 405.94,168.45 402.53,168.45 401.48,165.20" fill="#800000"/>
<polygon points="410.05,163.20 412.80,165.20 411.75,168.45 408.34,168.45 407.29,165.20" fill="#800000"/>
<polygon points="415.85,153.20 418.61,155.20 417.56,158.45 414.15,158.45 413.09,155.20" fill="#800000"/>
<polygon points="421.66,153.20 424.42,155.20 423.36,158.45 419.96,158.45 418.90,155.20" fill="#800000"/>
<polygon points="427.47,143.90 430.23,145.90 429.17,149.15 425.76,149.15 424.71,145.90" fill="#800000"/>
<polygon points="433.28,144.40 436.03,146.40 434.98,149.65 431.57,149.65 430.52,146.40" fill="#800000"/>
<polygon points="439.08,134.70 441.84,136.70 440.79,139.95 437.38,139.95 436.32,136.70" fill="#800000"/>
<polygon points="444.89,125.40 447.65,127.40 446.59,130.65 443.19,130.65 442.13,127.40" fill="#800000"/>
<polygon points="450.70,125.80 453.46,127.80 452.40,131.05 448.99,131.05 447.94,127.80" fill="#800000"/>
<polygon points="456.50,106.90 459.26,108.90 458.21,112.15 454.80,112.15 453.75,108.90" fill="#800000"/>
<polygon points="462.31,97.40 465.07,99.40 464.02,102.65 460.61,102.65 459.55,99.40" fill="#800000"/>
<polygon points="468.12,88.60 470.88,90.60 469.82,93.85 466.42,93.85 465.36,90.60" fill="#800000"/>
<polygon points="473.93,79.30 476.69,81.30 475.63,84.55 472.22,84.55 471.17,81.30" fill="#800000"/>
<polygon points="479.74,69.70 482.49,71.70 481.44,74.95 478.03,74.95 476.98,71.70" fill="#800000"/>
<polygon points="485.54,60.50 488.30,62.50 487.25,65.75 483.84,65.75 482.78,62.50" fill="#800000"/>
<polygon points="491.35,51.60 494.11,53.60 493.05,56.85 489.65,56.85 488.59,53.60" fill="#800000"/>
<polygon points="497.16,60.50 499.92,62.50 498.86,65.75 495.45,65.75 494.40,62.50" fill="#800000"/>
<polygon points="502.97,69.70 505.72,71.70 504.67,74.95 501.26,74.95 500.21,71.70" fill="#800000"/>
<polygon points="508.77,78.90 511.53,80.90 510.48,84.15 507.07,84.15 506.01,80.90" fill="#800000"/>
<polygon points="514.58,88.60 517.34,90.60 516.28,93.85 512.88,93.85 511.82,90.60" fill="#800000"/>
<polygon points="520.39,97.30 523.15,99.30 522.09,102.55 518.68,102.55 517.63,99.30" fill="#800000"/>
<polygon points="526.20,106.70 528.95,108.70 527.90,111.95 524.49,111.95 523.44,108.70" fill="#800000"/>
<polygon points="532.00,125.50 534.76,127.50 533.71,130.75 530.30,130.75 529.24,127.50" fill="#800000"/>
<polygon points="537.81,125.40 540.57,127.40 539.51,130.65 536.11,130.65 535.05,127.40" fill="#800000"/>
<polygon points="543.62,135.50 546.38,137.50 545.32,140.75 541.91,140.75 540.86,137.50" fill="#800000"/>
<polygon points="549.43,144.40 552.18,146.40 551.13,149.65 547.72,149.65 546.67,146.40" fill="#800000"/>
<polygon points="555.23,144.40 557.99,146.40 556.94,149.65 553.53,149.65 552.47,146.40" fill="#800000"/>
<polygon points="561.04,153.20 563.80,155.20 562.74,158.45 559.34,158.45 558.28,155.20" fill="#800000"/>
<polygon points="566.85,153.20 569.61,155.20 568.55,158.45 565.14,158.45 564.09,155.20" fill="#800000"/>
<polygon points="572.65,163.00 575.41,165.00 574.36,168.25 570.95,168.25 569.90,165.00" fill="#800000"/>
<polygon points="578.46,172.40 581.22,174.40 580.17,177.65 576.76,177.65 575.70,174.40" fill="#800000"/>
<polygon points="584.27,181.60 587.03,183.60 585.97,186.85 582.57,186.85 581.51,183.60" fill="#800000"/>
<polygon points="590.08,190.20 592.84,192.20 591.78,195.45 588.37,195.45 587.32,192.20" fill="#800000"/>
<polygon points="595.88,199.70 598.64,201.70 597.59,204.95 594.18,204.95 593.13,201.70" fill="#800000"/>
<polygon points="601.69,209.30 604.45,211.30 603.40,214.55 599.99,214.55 598.93,211.30" fill="#800000"/>
<polygon points="607.50,218.40 610.26,220.40 609.20,223.65 605.80,223.65 604.74,220.40" fill="#800000"/>
<circle cx="375.20" cy="220.70" r="2.70" fill="url(#sg)"/>
<circle cx="381.01" cy="220.70" r="2.70" fill="url(#sg)"/>
<circle cx="386.82" cy="212.70" r="2.70" fill="url(#sg)"/>
<circle cx="392.62" cy="203.90" r="2.70" fill="url(#sg)"/>
<circle cx="398.43" cy="195.60" r="2.70" fill="url(#sg)"/>
<circle cx="404.24" cy="177.60" r="2.70" fill="url(#sg)"/>
<circle cx="410.05" cy="177.60" r="2.70" fill="url(#sg)"/>
<circle cx="415.85" cy="169.20" r="2.70" fill="url(#sg)"/>
<circle cx="421.66" cy="160.40" r="2.70" fill="url(#sg)"/>
<circle cx="427.47" cy="151.60" r="2.70" fill="url(#sg)"/>
<circle cx="433.28" cy="142.70" r="2.70" fill="url(#sg)"/>
<circle cx="439.08" cy="142.70" r="2.70" fill="url(#sg)"/>
<circle cx="444.89" cy="134.50" r="2.70" fill="url(#sg)"/>
<circle cx="450.70" cy="126.30" r="2.70" fill="url(#sg)"/>
<circle cx="456.50" cy="100.70" r="2.70" fill="url(#sg)"/>
<circle cx="462.31" cy="83.50" r="2.70" fill="url(#sg)"/>
<circle cx="468.12" cy="74.60" r="2.70" fill="url(#sg)"/>
<circle cx="473.93" cy="66.20" r="2.70" fill="url(#sg)"/>
<circle cx="479.74" cy="66.20" r="2.70" fill="url(#sg)"/>
<circle cx="485.54" cy="57.20" r="2.70" fill="url(#sg)"/>
<circle cx="491.35" cy="48.50" r="2.70" fill="url(#sg)"/>
<circle cx="497.16" cy="57.20" r="2.70" fill="url(#sg)"/>
<circle cx="502.97" cy="66.20" r="2.70" fill="url(#sg)"/>
<circle cx="508.77" cy="66.20" r="2.70" fill="url(#sg)"/>
<circle cx="514.58" cy="74.60" r="2.70" fill="url(#sg)"/>
<circle cx="520.39" cy="83.00" r="2.70" fill="url(#sg)"/>
<circle cx="526.20" cy="99.90" r="2.70" fill="url(#sg)"/>
<circle cx="532.00" cy="117.60" r="2.70" fill="url(#sg)"/>
<circle cx="537.81" cy="126.50" r="2.70" fill="url(#sg)"/>
<circle cx="543.62" cy="135.00" r="2.70" fill="url(#sg)"/>
<circle cx="549.43" cy="135.00" r="2.70" fill="url(#sg)"/>
<circle cx="555.23" cy="143.20" r="2.70" fill="url(#sg)"/>
<circle cx="561.04" cy="143.20" r="2.70" fill="url(#sg)"/>
<circle cx="566.85" cy="152.20" r="2.70" fill="url(#sg)"/>
<circle cx="572.65" cy="160.40" r="2.70" fill="url(#sg)"/>
<circle cx="578.46" cy="169.30" r="2.70" fill="url(#sg)"/>
<circle cx="584.27" cy="178.10" r="2.70" fill="url(#sg)"/>
<circle cx="590.08" cy="186.50" r="2.70" fill="url(#sg)"/>
<circle cx="595.88" cy="195.30" r="2.70" fill="url(#sg)"/>
<circle cx="601.69" cy="204.30" r="2.70" fill="url(#sg)"/>
<circle cx="607.50" cy="212.20" r="2.70" fill="url(#sg)"/>
</g>
<rect x="357.9" y="3.6" width="278.6" height="226.8" fill="none" stroke="#000" stroke-width="1.6"/>
<path d="M357.9 221.10H362.9" stroke="#000" stroke-width="1.2"/>
<text transform="translate(353.00 224.60) scale(1 1.06)" font-family='"Liberation Sans", sans-serif' font-size="10.0" font-weight="bold" text-anchor="end" >1.00</text>
<path d="M357.9 197.43H360.9" stroke="#000" stroke-width="1.2"/>
<path d="M357.9 173.75H362.9" stroke="#000" stroke-width="1.2"/>
<text transform="translate(353.00 177.25) scale(1 1.06)" font-family='"Liberation Sans", sans-serif' font-size="10.0" font-weight="bold" text-anchor="end" >1.05</text>
<path d="M357.9 150.08H360.9" stroke="#000" stroke-width="1.2"/>
<path d="M357.9 126.40H362.9" stroke="#000" stroke-width="1.2"/>
<text transform="translate(353.00 129.90) scale(1 1.06)" font-family='"Liberation Sans", sans-serif' font-size="10.0" font-weight="bold" text-anchor="end" >1.10</text>
<path d="M357.9 102.72H360.9" stroke="#000" stroke-width="1.2"/>
<path d="M357.9 79.05H362.9" stroke="#000" stroke-width="1.2"/>
<text transform="translate(353.00 82.55) scale(1 1.06)" font-family='"Liberation Sans", sans-serif' font-size="10.0" font-weight="bold" text-anchor="end" >1.15</text>
<path d="M357.9 55.37H360.9" stroke="#000" stroke-width="1.2"/>
<path d="M357.9 31.70H362.9" stroke="#000" stroke-width="1.2"/>
<text transform="translate(353.00 35.20) scale(1 1.06)" font-family='"Liberation Sans", sans-serif' font-size="10.0" font-weight="bold" text-anchor="end" >1.20</text>
<path d="M357.9 8.02H360.9" stroke="#000" stroke-width="1.2"/>
<path d="M375.20 230.4V226.4" stroke="#000" stroke-width="1.2"/>
<text transform="translate(375.20 243.60) scale(1 1.08)" font-family='"Liberation Sans", sans-serif' font-size="10.0" font-weight="bold" text-anchor="middle" >-10</text>
<path d="M433.28 230.4V226.4" stroke="#000" stroke-width="1.2"/>
<text transform="translate(433.28 243.60) scale(1 1.08)" font-family='"Liberation Sans", sans-serif' font-size="10.0" font-weight="bold" text-anchor="middle" >-5</text>
<path d="M491.35 230.4V226.4" stroke="#000" stroke-width="1.2"/>
<text transform="translate(491.35 243.60) scale(1 1.08)" font-family='"Liberation Sans", sans-serif' font-size="10.0" font-weight="bold" text-anchor="middle" >0</text>
<path d="M549.43 230.4V226.4" stroke="#000" stroke-width="1.2"/>
<text transform="translate(549.43 243.60) scale(1 1.08)" font-family='"Liberation Sans", sans-serif' font-size="10.0" font-weight="bold" text-anchor="middle" >5</text>
<path d="M607.50 230.4V226.4" stroke="#000" stroke-width="1.2"/>
<text transform="translate(607.50 243.60) scale(1 1.08)" font-family='"Liberation Sans", sans-serif' font-size="10.0" font-weight="bold" text-anchor="middle" >10</text>
<path d="M404.24 230.4V227.9" stroke="#000" stroke-width="1.2"/>
<path d="M462.31 230.4V227.9" stroke="#000" stroke-width="1.2"/>
<path d="M520.39 230.4V227.9" stroke="#000" stroke-width="1.2"/>
<path d="M578.46 230.4V227.9" stroke="#000" stroke-width="1.2"/>
<text transform="translate(497.30 256.40) scale(1 1.0)" font-family='"Liberation Sans", sans-serif' font-size="10.4" font-weight="bold" text-anchor="middle" >Z (mm)</text>
<text transform="translate(326.40 124.30) scale(1 1.11) rotate(-90)" font-family='"Liberation Sans", sans-serif' font-size="9.2" font-weight="bold" text-anchor="middle" textLength="141.44" lengthAdjust="spacingAndGlyphs">Normalised Transmittance (a.u.)</text>
<text transform="translate(377.00 21.20) scale(1 1.0)" font-family='"Liberation Serif", serif' font-size="15.0" font-weight="bold" text-anchor="start" >(b)</text>
<rect x="573.8" y="3.6" width="70" height="77.4" fill="#fff" stroke="#bbb" stroke-width="0.8"/>
<rect x="584.90" y="8.00" width="4.80" height="4.80" fill="#000"/>
<text transform="translate(602.20 14.20) scale(1 1.0)" font-family='"Liberation Sans", sans-serif' font-size="10.0" font-weight="bold" text-anchor="start" textLength="34.8" lengthAdjust="spacingAndGlyphs">700 nm</text>
<circle cx="587.30" cy="23.40" r="2.60" fill="#00ff00"/>
<text transform="translate(602.20 27.20) scale(1 1.0)" font-family='"Liberation Sans", sans-serif' font-size="10.0" font-weight="bold" text-anchor="start" textLength="34.8" lengthAdjust="spacingAndGlyphs">750 nm</text>
<path d="M587.30 33.28L590.30 38.48L584.30 38.48Z" fill="#ff0000"/>
<text transform="translate(602.20 40.20) scale(1 1.0)" font-family='"Liberation Sans", sans-serif' font-size="10.0" font-weight="bold" text-anchor="start" textLength="34.8" lengthAdjust="spacingAndGlyphs">800 nm</text>
<path d="M587.30 52.52L590.30 47.32L584.30 47.32Z" fill="#0000ff"/>
<text transform="translate(602.20 53.20) scale(1 1.0)" font-family='"Liberation Sans", sans-serif' font-size="10.0" font-weight="bold" text-anchor="start" textLength="34.8" lengthAdjust="spacingAndGlyphs">850 nm</text>
<polygon points="587.30,59.80 590.06,61.80 589.00,65.05 585.60,65.05 584.54,61.80" fill="#800000"/>
<text transform="translate(602.20 66.20) scale(1 1.0)" font-family='"Liberation Sans", sans-serif' font-size="10.0" font-weight="bold" text-anchor="start" textLength="34.8" lengthAdjust="spacingAndGlyphs">900 nm</text>
<circle cx="587.30" cy="75.40" r="2.70" fill="url(#sg)"/>
<text transform="translate(602.20 79.20) scale(1 1.0)" font-family='"Liberation Sans", sans-serif' font-size="10.0" font-weight="bold" text-anchor="start" textLength="34.8" lengthAdjust="spacingAndGlyphs">950 nm</text>
<path d="M636.5 3.6V230.4" stroke="#000" stroke-width="1.6"/>
<path d="M357.9 3.6H637.3" stroke="#000" stroke-width="1.6"/>
</svg>
</body></html>
